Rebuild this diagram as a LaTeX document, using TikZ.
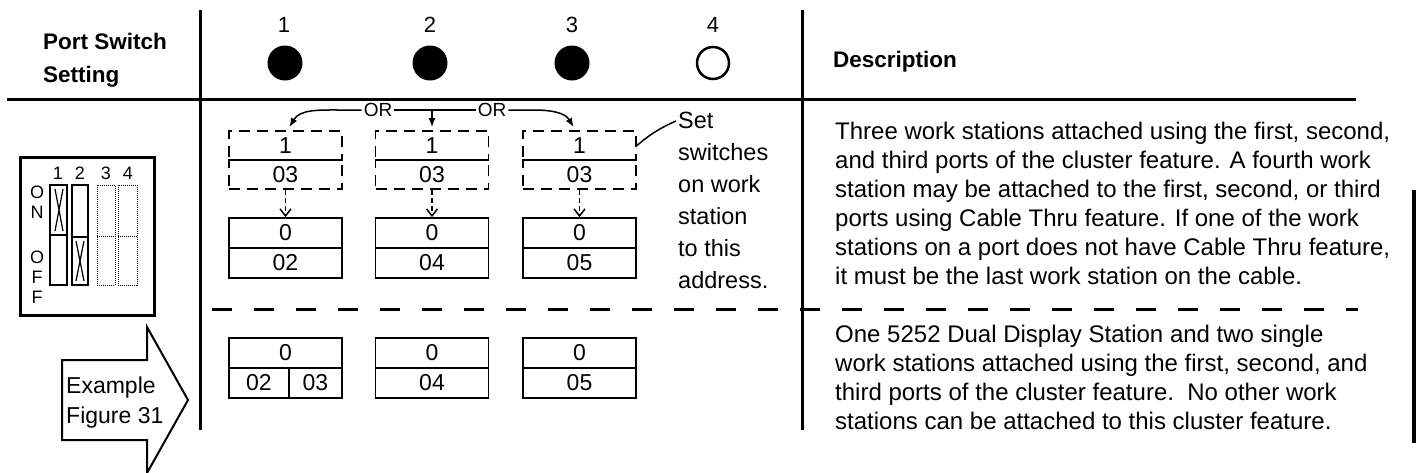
\documentclass[tikz,border=0pt]{standalone}
\usepackage{fontspec}
\setmainfont{Liberation Sans}
\usetikzlibrary{arrows.meta, positioning, calc}

\begin{document}
\begin{tikzpicture}[
    x=1pt, y=-1pt,
    tabrule/.style={draw=black, line width=3pt},
    hdr/.style={font=\fontsize{22.5}{33}\selectfont\bfseries, align=left, inner sep=0pt},
    txt/.style={font=\fontsize{24}{29}\selectfont, align=left, inner sep=0pt},
    notetxt/.style={font=\fontsize{23.5}{32}\selectfont, align=left, inner sep=0pt},
    portnum/.style={font=\fontsize{22}{22}\selectfont, inner sep=0pt},
    port/.style={circle, minimum size=35pt, inner sep=0pt},
    dbox/.style={rectangle, draw=black, line width=1.8pt, dash pattern=on 11pt off 7pt, minimum width=113pt, minimum height=29pt, inner sep=0pt, font=\fontsize{23}{23}\selectfont},
    sbox/.style={rectangle, draw=black, line width=1.8pt, minimum width=113pt, minimum height=30pt, inner sep=0pt, font=\fontsize{23}{23}\selectfont},
    lead/.style={draw=black, line width=1.5pt},
    conn/.style={draw=black, line width=1.5pt, -{Latex[length=9pt, width=7pt]}},
    dconn/.style={draw=black, line width=1.5pt, dash pattern=on 5pt off 3pt, -{Straight Barb[length=7pt, width=11pt]}},
    orlbl/.style={font=\fontsize{19}{19}\selectfont, inner sep=2pt},
    swlbl/.style={font=\fontsize{18}{20}\selectfont, inner sep=0pt, align=center},
    sw/.style={draw=black, line width=1.5pt},
    swoff/.style={draw=black, line width=1pt, densely dotted}
]
    \useasboundingbox (0,0) rectangle (1416,472);

    % Table rules
    \draw [tabrule] (7,99) -- (1356,99);
    \draw [tabrule] (200,10) -- (200,430);
    \draw [tabrule] (802,10) -- (802,430);
    \draw [tabrule, dash pattern=on 20pt off 22pt] (212,309) -- (1358,309);
    \draw [tabrule, line width=4pt] (1414,190) -- (1414,443);

    % Column headers
    \node (hset) at (43,33) [hdr, anchor=north west] {Port Switch\\Setting};
    \node (hdesc) at (833,62) [hdr, anchor=west] {Description};

    % Ports (y = 63)
    \node (n1) at (284,25) [portnum] {1};
    \node (n2) at (430,25) [portnum] {2};
    \node (n3) at (572,25) [portnum] {3};
    \node (n4) at (713,25) [portnum] {4};
    \node (p1) at (285,63) [port, fill=black] {};
    \node (p2) at (430,63) [port, fill=black] {};
    \node (p3) at (572,63) [port, fill=black] {};
    \node (p4) at (713,63) [port, draw=black, line width=2.5pt, minimum size=32pt] {};

    % Row 1: work station switch settings (dashed)
    \node (d1a) at (285.5,145.5) [dbox] {1};
    \node (d1b) at (285.5,174.5) [dbox] {03};
    \node (d2a) at (432,145.5) [dbox] {1};
    \node (d2b) at (432,174.5) [dbox] {03};
    \node (d3a) at (579.5,145.5) [dbox] {1};
    \node (d3b) at (579.5,174.5) [dbox] {03};

    % Row 1: addresses
    \node (s1a) at (285.5,233) [sbox] {0};
    \node (s1b) at (285.5,263) [sbox] {02};
    \node (s2a) at (432,233) [sbox] {0};
    \node (s2b) at (432,263) [sbox] {04};
    \node (s3a) at (579.5,233) [sbox] {0};
    \node (s3b) at (579.5,263) [sbox] {05};

    % Row 2: addresses
    \node (r1a) at (285.5,353) [sbox] {0};
    \node (r1b) at (259,383) [sbox, minimum width=60pt] {02};
    \node (r1c) at (315.5,383) [sbox, minimum width=53pt] {03};
    \node (r2a) at (432,353) [sbox] {0};
    \node (r2b) at (432,383) [sbox] {04};
    \node (r3a) at (579.5,353) [sbox] {0};
    \node (r3b) at (579.5,383) [sbox] {05};

    % OR connectors
    \node (or1) at (378,110) [orlbl] {OR};
    \node (or2) at (492,110) [orlbl] {OR};
    \draw [conn] (or1.west) -- ++(-22,0) to[out=180, in=60] ([xshift=4pt, yshift=3pt]d1a.north);
    \draw [lead] (or1.east) -- (or2.west);
    \draw [conn] (or1.east -| d2a.north) -- ([yshift=3pt]d2a.north);
    \draw [conn] (or2.east) -- ++(25,0) to[out=0, in=120] ([xshift=-6pt, yshift=3pt]d3a.north);

    % Dashed set arrows
    \draw [dconn] (d1b.south) -- (s1a.north);
    \draw [dconn] (d2b.south) -- (s2a.north);
    \draw [dconn] (d3b.south) -- (s3a.north);

    % Note
    \node (setnote) at (678,112) [notetxt, anchor=north west] {Set\\switches\\on work\\station\\to this\\address.};
    \draw [lead] ([xshift=-2pt, yshift=-9pt]setnote.north west) to[bend right=8] (d3a.east);

    % Descriptions
    \node (desc1) at (835,122) [txt, anchor=north west] {Three work stations attached using the first, second,\\and third ports of the cluster feature. A fourth work\\station may be attached to the first, second, or third\\ports using Cable Thru feature. If one of the work\\stations on a port does not have Cable Thru feature,\\it must be the last work station on the cable.};
    \node (desc2) at (835,325) [txt, anchor=north west] {One 5252 Dual Display Station and two single\\work stations attached using the first, second, and\\third ports of the cluster feature.\ \ No other work\\stations can be attached to this cluster feature.};

    % Switch panel
    \draw [line width=3pt] (20,157) rectangle (154,315);
    \foreach \i/\x in {1/58, 2/80, 3/106, 4/128}
        \node (swn\i) at (\x,173) [swlbl] {\i};
    \node (lon) at (37,202) [swlbl] {O\\N};
    \node (loff) at (37,277) [swlbl] {O\\F\\F};
    % switch 1 on
    \draw [sw] (50,185) rectangle (67,285);
    \draw [sw, line width=2pt] (50,185) rectangle (67,235);
    \draw [line width=1.2pt] (55,189) -- (63,231) (63,189) -- (55,231);
    % switch 2 off
    \draw [sw] (72,185) rectangle (88,285);
    \draw [sw, line width=2pt] (72,237) rectangle (88,285);
    \draw [line width=1.2pt] (76,241) -- (84,281) (84,241) -- (76,281);
    % switches 3 and 4 unused
    \draw [swoff] (97,185) rectangle (115,285) (97,236) -- (115,236);
    \draw [swoff] (118,185) rectangle (137,285) (118,236) -- (137,236);

    % Example arrow
    \draw [line width=2pt, line join=miter] (62,360) -- (147,360) -- (147,327) -- (188,400) -- (147,473) -- (147,440) -- (62,440) -- cycle;
    \node (exlbl) at (66,377) [txt, anchor=north west, font=\fontsize{23}{30}\selectfont] {Example\\Figure 31};

\end{tikzpicture}
\end{document}
